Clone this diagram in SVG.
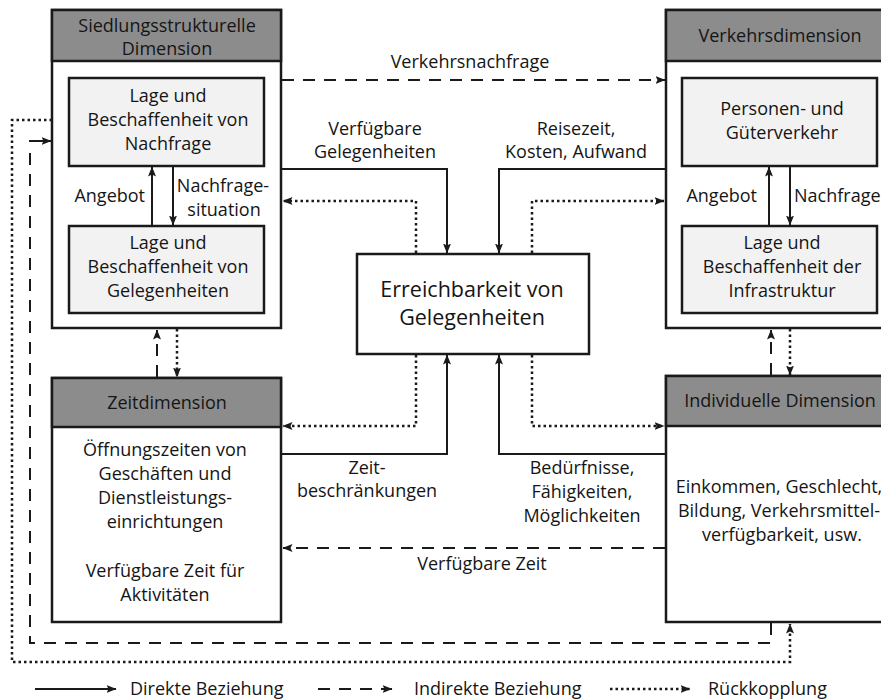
<svg xmlns="http://www.w3.org/2000/svg" width="881" height="699" viewBox="0 0 881 699">
<defs>
<marker id="ah" viewBox="0 0 10 8" markerWidth="10" markerHeight="8" refX="9.5" refY="4" orient="auto" markerUnits="userSpaceOnUse">
<path d="M0,0 L10,4 L0,8 L2,4 z" fill="#1a1a1a"/>
</marker>
<style>
text{font-family:"Open Sans","Noto Sans","Liberation Sans",sans-serif;font-size:18px;fill:#151515;text-anchor:middle}
.big{font-size:21.5px}
.st{text-anchor:start}
.en{text-anchor:end}
.box{fill:#ffffff;stroke:#1a1a1a;stroke-width:2.5}
.inner{fill:#f2f2f2;stroke:#1a1a1a;stroke-width:2.5}
.head{fill:#8c8c8c;stroke:#1a1a1a;stroke-width:2.5}
.c{fill:none;stroke:#1a1a1a;stroke-width:2}
.dash{stroke-dasharray:12 9}
.dot{stroke-dasharray:2.5 3;stroke-width:2.5}
.arr{marker-end:url(#ah)}
</style>
</defs>
<rect width="881" height="699" fill="#ffffff"/>

<g id="siedlung">
<rect class="box" x="52" y="10" width="229" height="318"/>
<rect class="head" x="52" y="10" width="229" height="51"/>
<text x="167" y="32">Siedlungsstrukturelle</text>
<text x="167" y="55">Dimension</text>
</g>
<g id="nachfrage-box">
<rect class="inner" x="69" y="78" width="195" height="88"/>
<text x="168" y="102">Lage und</text>
<text x="168" y="126">Beschaffenheit von</text>
<text x="168" y="150">Nachfrage</text>
</g>
<g id="gelegenheiten-box">
<rect class="inner" x="69" y="226" width="195" height="87"/>
<text x="168" y="249">Lage und</text>
<text x="168" y="273">Beschaffenheit von</text>
<text x="168" y="297">Gelegenheiten</text>
</g>

<g id="verkehr">
<rect class="box" x="666" y="10" width="229" height="318"/>
<rect class="head" x="666" y="10" width="229" height="51"/>
<text x="780" y="42">Verkehrsdimension</text>
</g>
<g id="personen-box">
<rect class="inner" x="682" y="78" width="195" height="88"/>
<text x="782" y="115">Personen- und</text>
<text x="782" y="139">Güterverkehr</text>
</g>
<g id="infra-box">
<rect class="inner" x="682" y="226" width="195" height="87"/>
<text x="782" y="249">Lage und</text>
<text x="782" y="273">Beschaffenheit der</text>
<text x="782" y="297">Infrastruktur</text>
</g>

<g id="erreichbarkeit">
<rect class="box" x="357" y="254" width="232" height="100"/>
<text class="big" x="472" y="297">Erreichbarkeit von</text>
<text class="big" x="472" y="325">Gelegenheiten</text>
</g>

<g id="zeit">
<rect class="box" x="52" y="378" width="229" height="244"/>
<rect class="head" x="52" y="378" width="229" height="49"/>
<text x="167" y="409">Zeitdimension</text>
<text x="165" y="456">Öffnungszeiten von</text>
<text x="165" y="480">Geschäften und</text>
<text x="165" y="504">Dienstleistungs-</text>
<text x="165" y="528">einrichtungen</text>
<text x="165" y="577">Verfügbare Zeit für</text>
<text x="165" y="601">Aktivitäten</text>
</g>

<g id="individuell">
<rect class="box" x="666" y="376" width="229" height="246"/>
<rect class="head" x="666" y="376" width="229" height="50"/>
<text x="780" y="407">Individuelle Dimension</text>
<text x="779" y="493">Einkommen, Geschlecht,</text>
<text x="779" y="517">Bildung, Verkehrsmittel-</text>
<text x="782" y="541">verfügbarkeit, usw.</text>
</g>

<g id="connectors">
<path class="c arr" d="M152,226 V167"/>
<path class="c arr" d="M173,166 V225"/>
<path class="c arr" d="M769,226 V167"/>
<path class="c arr" d="M790,166 V225"/>

<path class="c dash arr" d="M282,80 H665"/>
<path class="c arr" d="M282,169 H447 V253"/>
<path class="c arr" d="M665,169 H499 V253"/>
<path class="c dot arr" d="M416,253 V201 H283"/>
<path class="c dot arr" d="M532,253 V201 H664"/>

<path class="c arr" d="M282,454 H447 V355"/>
<path class="c arr" d="M665,454 H499 V355"/>
<path class="c dot arr" d="M416,355 V426 H283"/>
<path class="c dot arr" d="M532,355 V426 H664"/>
<path class="c dash arr" d="M665,548 H283"/>

<path class="c dash arr" d="M157,377 V330"/>
<path class="c dot arr" d="M177,329 V377"/>
<path class="c dash arr" d="M771,375 V330"/>
<path class="c dot arr" d="M790,329 V375"/>

<path class="c dash" d="M771,623 V643 H30 V150"/>
<path class="c arr" d="M29,141 H51"/>
<path class="c dot arr" d="M52,120 H12 V662 H790 V624"/>
</g>

<g id="labels">
<text x="470" y="68">Verkehrsnachfrage</text>
<text x="375" y="135">Verfügbare</text>
<text x="375" y="158">Gelegenheiten</text>
<text x="576" y="135">Reisezeit,</text>
<text x="576" y="158">Kosten, Aufwand</text>
<text class="en" x="145" y="202">Angebot</text>
<text x="223" y="192">Nachfrage-</text>
<text x="224" y="216">situation</text>
<text class="en" x="757" y="202">Angebot</text>
<text class="st" x="794" y="202">Nachfrage</text>
<text x="367" y="474">Zeit-</text>
<text x="367" y="497">beschränkungen</text>
<text x="582" y="474">Bedürfnisse,</text>
<text x="582" y="498">Fähigkeiten,</text>
<text x="582" y="522">Möglichkeiten</text>
<text x="482" y="570">Verfügbare Zeit</text>
</g>

<g id="legend">
<path class="c arr" d="M35,689 H116"/>
<text class="st" x="130" y="695">Direkte Beziehung</text>
<path class="c dash arr" d="M318,689 H392"/>
<text class="st" x="414" y="695">Indirekte Beziehung</text>
<path class="c dot arr" d="M610,689 H690"/>
<text class="st" x="708" y="695">Rückkopplung</text>
</g>
</svg>
